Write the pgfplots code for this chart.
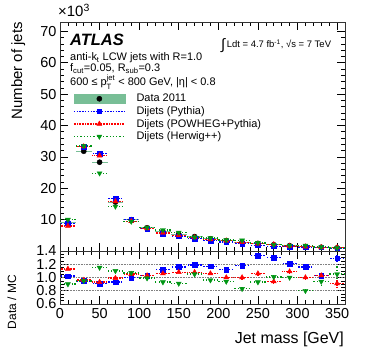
\documentclass[border=0pt]{standalone}
\usepackage{pgfplots}
\pgfplotsset{compat=1.18}
\usepackage{pgfplotstable}
\usepackage{amsmath}
\usepackage{fontspec}
\setmainfont{Liberation Sans}
\definecolor{bandgreen}{RGB}{120,190,150}
\definecolor{hwgreen}{RGB}{0,150,20}

\pgfplotstableread{
m data py pw hw ex ey
10 9.0 8.8 8.0 10.0 10 0.1
30 31.8 33.3 33.3 33.5 10 0.1
50 28.3 31.1 30.4 24.8 10 0.1
70 15.6 16.7 15.8 14.2 10 0.1
90 10.0 10.0 9.5 9.4 10 0.1
110 7.4 7.2 7.2 7.5 10 0.1
130 6.2 5.5 5.8 6.7 10 0.1
150 5.4 4.7 5.0 5.9 10 0.1
170 4.6 3.9 4.3 4.4 10 0.1
190 3.9 3.3 3.7 4.1 10 0.1
210 3.3 2.9 3.3 3.5 10 0.1
230 2.8 2.4 2.8 3.4 10 0.1
250 2.4 1.8 2.3 2.6 10 0.1
270 2.0 1.5 2.1 2.0 10 0.1
290 1.7 1.4 1.6 1.7 10 0.1
310 1.4 1.2 1.4 1.75 10 0.1
330 1.2 1.15 1.15 1.3 10 0.1
350 1.0 0.8 1.1 0.95 10 0.1
}\spectrum

\pgfplotstableread{
m rpy epy rpw epw rhw ehw ex
10 1.02 0.01 1.13 0.01 0.90 0.01 10
30 0.95 0.01 0.96 0.01 0.95 0.01 10
50 0.91 0.01 0.93 0.01 1.15 0.01 10
70 0.93 0.01 0.99 0.01 1.10 0.01 10
90 1.00 0.01 1.05 0.01 1.07 0.015 10
110 1.03 0.01 1.03 0.015 0.99 0.015 10
130 1.12 0.015 1.06 0.015 0.93 0.015 10
150 1.16 0.015 1.08 0.015 0.91 0.015 10
170 1.19 0.02 1.08 0.02 1.05 0.02 10
190 1.17 0.02 1.06 0.02 0.96 0.02 10
210 1.12 0.02 1.00 0.02 0.94 0.025 10
230 1.18 0.025 1.00 0.025 0.83 0.03 10
250 1.33 0.03 1.06 0.03 0.93 0.035 10
270 1.30 0.03 0.94 0.03 1.01 0.035 10
290 1.21 0.035 1.09 0.035 1.00 0.04 10
310 1.16 0.04 1.00 0.04 0.80 0.05 10
330 1.03 0.04 1.03 0.045 0.94 0.06 10
350 1.29 0.05 0.91 0.05 1.05 0.13 10
}\ratio

\tikzset{
  pydash/.style={dash pattern=on 1.4pt off 1.4pt},
  pwdash/.style={dash pattern=on 0.8pt off 0.8pt},
  hwdash/.style={dash pattern=on 1.4pt off 2.2pt on 0.7pt off 2.2pt},
}
\pgfplotsset{
  rootaxis/.style={
    scale only axis, width=285bp, xmin=0, xmax=360,
    xtick={0,50,...,350}, minor x tick num=4,
    tick align=inside, tick pos=both,
    major tick length=8bp, minor tick length=4bp,
    every tick/.style={black, line width=0.6pt},
    axis line style={line width=0.8pt, black!80},
    tick label style={font=\fontsize{14.5}{14.5}\selectfont},
    /pgf/number format/assume math mode=true,
  },
  ebars/.style={
    error bars/x dir=both, error bars/x explicit,
    error bars/y dir=both, error bars/y explicit,
    error bars/error mark=none},
  pystyle/.style={blue, mark=square*, mark size=2.3bp, only marks, ebars,
    error bars/error bar style={line width=1.4pt, pydash}},
  pwstyle/.style={red, mark=triangle*, mark size=2.9bp, only marks, ebars,
    error bars/error bar style={line width=1.4pt, pwdash}},
  hwstyle/.style={hwgreen, mark=triangle*, mark size=2.9bp, mark options={rotate=180}, only marks, ebars,
    error bars/error bar style={line width=1.4pt, hwdash}},
}

\begin{document}
\begin{tikzpicture}
\useasboundingbox (0,0) rectangle (374bp,359bp);

\begin{axis}[rootaxis, at={(60bp,108bp)}, anchor=south west, height=229bp,
  ymin=0, ymax=73, ytick={10,20,...,70}, minor y tick num=4,
  xticklabels={},
  legend style={at={(rel axis cs:0.035,0.703)}, anchor=north west, draw=none, fill=none,
    font=\fontsize{11}{11}\selectfont, row sep=-0.8bp, column sep=9bp, legend cell align=left},
]
\addlegendimage{legend image code/.code={
    \fill[bandgreen] (0bp,-4.5bp) rectangle (51bp,4.5bp);
    \fill[black] (25.5bp,0bp) circle (2.6bp);}}
\addlegendentry{Data 2011}
\addlegendimage{legend image code/.code={
    \draw[blue, line width=1.4pt, pydash] (0bp,0bp) -- (51bp,0bp);
    \fill[blue] (23.3bp,-2.3bp) rectangle (27.7bp,2.3bp);}}
\addlegendentry{Dijets (Pythia)}
\addlegendimage{legend image code/.code={
    \draw[red, line width=1.4pt, pwdash] (0bp,0bp) -- (51bp,0bp);
    \fill[red] (25.5bp,2.9bp) -- (23.0bp,-1.45bp) -- (28.0bp,-1.45bp) -- cycle;}}
\addlegendentry{Dijets (POWHEG+Pythia)}
\addlegendimage{legend image code/.code={
    \draw[hwgreen, line width=1.4pt, hwdash] (0bp,0bp) -- (51bp,0bp);
    \fill[hwgreen] (25.5bp,-2.9bp) -- (23.0bp,1.45bp) -- (28.0bp,1.45bp) -- cycle;}}
\addlegendentry{Dijets (Herwig++)}

\addplot[black, mark=*, mark size=2.6bp, only marks, forget plot,
  error bars/x dir=both, error bars/x explicit, error bars/error mark=none,
  error bars/error bar style={bandgreen, line width=1pt}]
  table[x=m, y=data, x error=ex] {\spectrum};
\addplot[pystyle, forget plot] table[x=m, y=py, x error=ex, y error=ey] {\spectrum};
\addplot[pwstyle, forget plot] table[x=m, y=pw, x error=ex, y error=ey] {\spectrum};
\addplot[hwstyle, forget plot] table[x=m, y=hw, x error=ex, y error=ey] {\spectrum};
\end{axis}

\begin{axis}[rootaxis, at={(60bp,55bp)}, anchor=south west, height=53bp,
  ymin=0.6, ymax=1.4, ytick={0.6,0.8,1.0,1.2,1.4},
  yticklabels={0.6,0.8,1.0,1.2,1.4}, minor y tick num=3,
  xticklabel style={yshift=-1bp},
]
\addplot[gray, densely dotted, line width=0.6pt, forget plot] coordinates {(0,0.8) (360,0.8)};
\addplot[gray, densely dotted, line width=0.6pt, forget plot] coordinates {(0,1.0) (360,1.0)};
\addplot[gray, densely dotted, line width=0.6pt, forget plot] coordinates {(0,1.2) (360,1.2)};
\addplot[pystyle] table[x=m, y=rpy, x error=ex, y error=epy] {\ratio};
\addplot[pwstyle] table[x=m, y=rpw, x error=ex, y error=epw] {\ratio};
\addplot[hwstyle] table[x=m, y=rhw, x error=ex, y error=ehw] {\ratio};
\end{axis}

% texts
\node[anchor=base west, inner sep=0pt, font=\fontsize{16.5}{16.5}\selectfont\bfseries\itshape] at (70bp,313bp) {ATLAS};
\node[anchor=base west, inner sep=0pt, font=\fontsize{11}{11}\selectfont] at (70bp,298bp) {anti-k\textsubscript{t} LCW jets with R=1.0};
\node[anchor=base west, inner sep=0pt, font=\fontsize{11}{11}\selectfont] at (70bp,287bp) {f\textsubscript{cut}=0.05, R\textsubscript{sub}=0.3};
\node[anchor=base west, inner sep=0pt, font=\fontsize{11}{11}\selectfont] at (70bp,273bp) {600 ≤ p$_{\text{T}}^{\text{jet}}$ < 800 GeV, |η| < 0.8};
\node[anchor=base west, inner sep=0pt, font=\fontsize{9.5}{9.5}\selectfont] at (221bp,311bp) {\raisebox{-2bp}{\fontsize{15}{15}\selectfont ∫}\,Ldt = 4.7 fb\textsuperscript{-1}, √s = 7 TeV};
\node[anchor=base west, inner sep=0pt, font=\fontsize{15}{15}\selectfont] at (58bp,342bp) {×10\textsuperscript{3}};
\node[rotate=90, anchor=base east, inner sep=0pt, font=\fontsize{15}{15}\selectfont] at (22bp,337bp) {Number of jets};
\node[rotate=90, anchor=base east, inner sep=0pt, font=\fontsize{12}{12}\selectfont] at (16bp,84bp) {Data / MC};
\node[anchor=base east, inner sep=0pt, font=\fontsize{16}{16}\selectfont] at (344bp,16bp) {Jet mass [GeV]};
\end{tikzpicture}
\end{document}
